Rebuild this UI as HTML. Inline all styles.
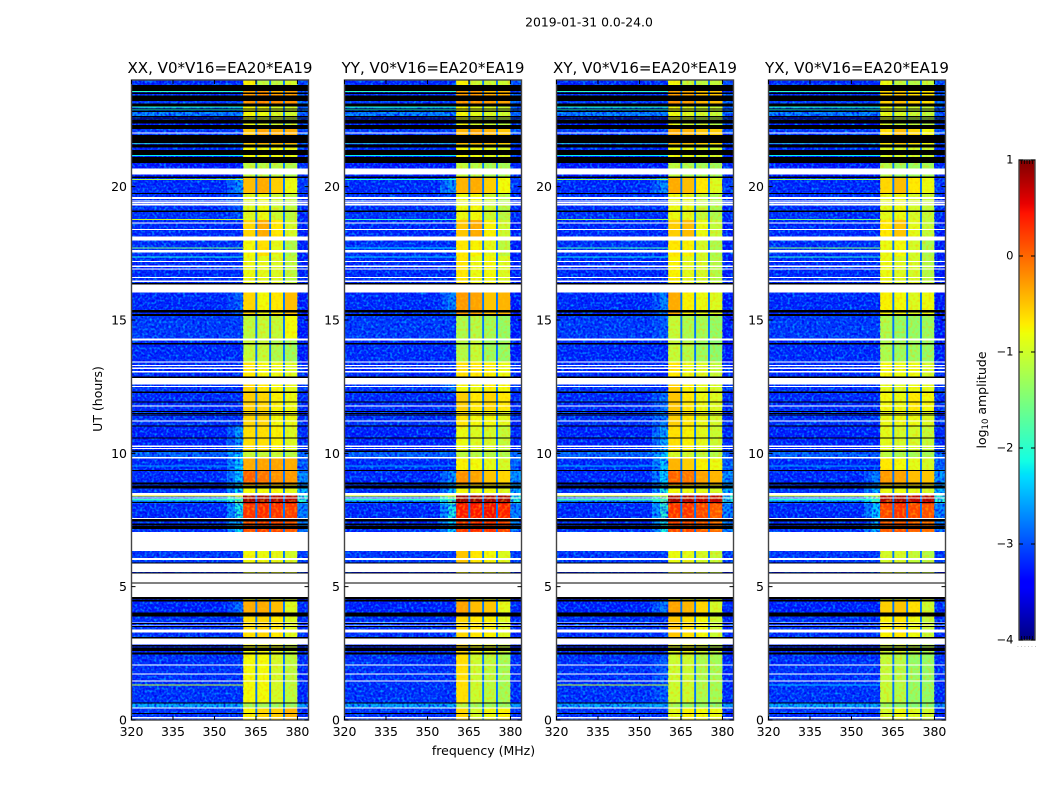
<!DOCTYPE html>
<html>
<head>
<meta charset="utf-8">
<title>2019-01-31 amplitude waterfall</title>
<style>
html,body{margin:0;padding:0;background:#fff;width:1050px;height:800px;overflow:hidden}
svg{display:block}
text{font-family:"DejaVu Sans","Liberation Sans",sans-serif;fill:#000}
</style>
</head>
<body>
<svg id="chart" xmlns="http://www.w3.org/2000/svg" width="1050" height="800" viewBox="0 0 1050 800">
<defs>
<filter id="speckle-light" x="0" y="0" width="100%" height="100%">
<feTurbulence type="fractalNoise" baseFrequency="0.42" numOctaves="1" seed="7"/>
<feColorMatrix type="matrix" values="0 0 0 0 0  0 0 0 0 0.5  0 0 0 0 1  2.4 0 0 0 -1.12"/>
</filter>
<filter id="speckle-dark" x="0" y="0" width="100%" height="100%">
<feTurbulence type="fractalNoise" baseFrequency="0.42" numOctaves="1" seed="23"/>
<feColorMatrix type="matrix" values="0 0 0 0 0  0 0 0 0 0  0 0 0 0 0.85  2.6 0 0 0 -1.05"/>
</filter>
<filter id="speckle-warm" x="0" y="0" width="100%" height="100%">
<feTurbulence type="fractalNoise" baseFrequency="0.38" numOctaves="1" seed="41"/>
<feColorMatrix type="matrix" values="0 0 0 0 1  0 0 0 0 0.55  0 0 0 0 0  1.6 0 0 0 -0.72"/>
</filter>
</defs>
<text x="589" y="26.5" font-size="12.4" text-anchor="middle">2019-01-31 0.0-24.0</text>
<text transform="translate(102,399) rotate(-90)" font-size="12.5" text-anchor="middle">UT (hours)</text>
<text x="483.5" y="755" font-size="12.5" text-anchor="middle">frequency (MHz)</text>
<text transform="translate(986,400) rotate(-90)" font-size="12.5" text-anchor="middle">log<tspan font-size="8.5" dy="2">10</tspan><tspan dy="-2"> amplitude</tspan></text>
<g id="panels"></g>
<g id="colorbar"></g>
<text x="1017" y="647" font-size="6" letter-spacing="1.6" style="fill:#888">......</text>
</svg>
<script>
// ---- axis data ----
const panelNames = ['XX', 'YY', 'XY', 'YX'];
const panelTitleSuffix = ', V0*V16=EA20*EA19';
const freqTicks = [320, 335, 350, 365, 380];
const hourTicks = [0, 5, 10, 15, 20];
const colorbarTicks = [1, 0, -1, -2, -3, -4];

// ---- time blocks (start hour of each block; last block ends at 24) ----
const blockStarts = [0,0.47,0.62,2.5,3.05,3.88,4.45,5.9,7.05,7.5,8.12,8.5,8.8,9.35,9.85,10.1,11.05,11.6,12.3,12.85,13.45,14.3,15.2,16.05,17.4,18.1,18.75,19.75,20.35,21.1,21.6,22.16,22.6,23.0,23.45,23.6];

// ---- frequency edges (MHz) ----
const bandEdges = [360.4, 365, 370, 375, 380];
const glowEdges = [354.5, 357.5, 360.4];
const notchFreqs = [365, 370, 375];

// ---- log10 amplitude levels per block, shared by all correlations ----
const backgroundLevel = [-3.15,-2.5,-3.15,-3.2,-3.15,-3.25,-3.25,-3.1,-3.15,-3.2,-2.8,-3.15,-3.2,-3.2,-2.85,-3.25,-3.15,-3.2,-3.15,-3.2,-3.2,-3.1,-3.2,-3.2,-3.15,-3.2,-3.15,-3.2,-3.3,-3.2,-3.1,-3.3,-2.7,-3.1,-3.2,-3.2];
const tailLevel = [-3.2,-2.6,-3.2,-3.2,-3.2,-3.2,-3.3,-3.1,-2.7,-2.7,-2.0,-2.4,-2.6,-2.9,-2.8,-3.2,-3.2,-3.2,-3.1,-3.2,-3.3,-3.3,-3.3,-3.25,-3.25,-3.25,-3.2,-3.1,-3.2,-3.2,-3.0,-3.0,-2.9,-2.8,-3,-3];
const notchLevel = -2.8;

// ---- per-correlation rows: [glow, 360-365, 365-370, 370-375, 375-380] ----
const xxRows = [
[null,-.75,-.6,-.55,-.4],[null,-1.3,-1.3,-1.35,-1.4],[null,-.8,-.8,-1.0,-1.15],[null,-.8,-.8,-.9,-1.1],
[null,-.65,-.6,-.7,-.95],[-2.8,-.35,-.35,-.45,-.95],[null,-.9,-.9,-.9,-1],[null,-.8,-.85,-.9,-1.0],
[-2.2,.15,.25,.2,.1],[-2.1,.3,.35,.3,.25],[-1.4,.85,.85,.8,.8],[-2.2,-.8,-.8,-.8,-.9],
[-2.3,.05,-.05,-.2,-.25],[-2.3,-.35,-.3,-.3,-.35],[-2.3,-1.1,-1.1,-1.1,-1.2],[-2.6,-.65,-.65,-.75,-.95],
[null,-.6,-.6,-.8,-.85],[null,-.55,-.6,-.75,-.85],[null,-.6,-.7,-.8,-.9],[null,-.7,-.8,-.85,-.95],
[null,-1.1,-1.1,-1.25,-1.35],[null,-1.15,-1.1,-1.1,-.8],[-2.9,-.6,-.8,-.7,-.45],[null,-.85,-.9,-.95,-1.15],
[null,-.8,-.65,-.9,-1.25],[null,-.6,-.35,-.7,-1.0],[-2.9,-.95,-.85,-1.05,-1.15],[-2.6,-.45,-.35,-.55,-.85],
[null,-1.15,-1.2,-1.2,-1.25],[null,-.8,-.85,-.85,-.9],[null,-.5,-.3,-.35,-.35],[null,-.9,-1,-1.05,-1.1],
[null,-.8,-.85,-1,-1.05],[null,-.2,-.15,-.15,-.2],[null,-.3,-.2,-.4,-.3],[null,-.75,-1.15,-1.15,-1]
];
const yyRows = [
[null,-.6,-1.0,-.85,-.75],[null,-1.2,-1.35,-1.35,-1.4],[null,-.65,-1.05,-1.15,-1.3],[null,-.6,-.8,-.9,-1.1],
[null,-.6,-.7,-.75,-.95],[null,-.3,-.45,-.5,-.9],[null,-.8,-.9,-.9,-1],[null,-.5,-.7,-.8,-.95],
[-2.3,.3,.35,.3,.2],[-2.1,.45,.45,.5,.4],[-1.4,.9,.9,.85,.85],[-2.4,-.8,-.85,-.85,-.95],
[-2.6,-.2,-.3,-.5,-.6],[null,-.75,-.8,-.9,-1.0],[null,-1.15,-1.2,-1.2,-1.25],[null,-.85,-.95,-1.0,-1.1],
[null,-.7,-.8,-.8,-.9],[null,-.55,-.7,-.6,-.7],[-2.7,-.8,-.85,-.75,-.8],[null,-.65,-.7,-.75,-.85],
[null,-1.2,-1.1,-1.35,-1.4],[null,-1.25,-1.2,-1.3,-1.4],[-2.7,-.25,-.3,-.5,-.4],[null,-.7,-.85,-.8,-.95],
[null,-.7,-.75,-.9,-1.15],[null,-.5,-.35,-.75,-1.05],[null,-.85,-.8,-1.05,-1.2],[-2.6,-.4,-.35,-.55,-.8],
[null,-1.1,-1.2,-1.3,-1.3],[null,-.8,-.85,-.95,-1],[null,-.4,-.3,-.4,-.5],[null,-.85,-1,-1.1,-1.15],
[null,-.8,-.9,-1,-1.05],[null,-.2,-.2,-.25,-.3],[null,-.3,-.25,-.45,-.4],[null,-.75,-1.05,-1.1,-1.05]
];
const xyRows = [
[null,-.9,-.75,-.8,-.85],[null,-1.3,-1.4,-1.4,-1.5],[-2.9,-1.05,-1.05,-1.25,-1.3],[null,-.9,-.85,-1.0,-1.2],
[null,-.5,-.65,-.8,-1.05],[-2.7,-.3,-.4,-.6,-1.0],[null,-.9,-.9,-1,-1.1],[null,-.85,-.9,-1.0,-1.1],
[-2.1,.2,.2,.1,0],[-2.0,.3,.3,.2,.1],[-1.5,.85,.8,.75,.75],[-2.1,-.8,-.85,-.9,-1],
[-2.3,.05,-.05,-.3,-.4],[-2.3,-.4,-.55,-.75,-.85],[-2.3,-1,-1.05,-1.15,-1.2],[-2.5,-.65,-.75,-.9,-1.05],
[-2.7,-.55,-.7,-.85,-1],[-2.8,-.5,-.7,-.85,-.95],[null,-.55,-.75,-.9,-1],[null,-.7,-.85,-.95,-1.1],
[null,-1.1,-1.2,-1.35,-1.45],[-2.9,-1.1,-1.25,-1.3,-1.4],[-2.7,-.35,-.75,-.85,-.95],[null,-.75,-.9,-1,-1.2],
[null,-.7,-.75,-1,-1.25],[null,-.55,-.45,-.85,-1.1],[null,-.85,-.9,-1.1,-1.25],[-2.6,-.35,-.45,-.7,-.95],
[null,-1.15,-1.25,-1.3,-1.35],[null,-.85,-.9,-1,-1.05],[null,-.35,-.4,-.5,-.55],[null,-.9,-1.05,-1.15,-1.2],
[null,-.85,-.95,-1.05,-1.1],[null,-.2,-.25,-.4,-.45],[null,-.3,-.35,-.5,-.5],[null,-.8,-1.1,-1.15,-1.1]
];
const yxRows = [
[null,-1.0,-.85,-.95,-1.05],[null,-1.35,-1.45,-1.5,-1.5],[null,-1.1,-1.2,-1.4,-1.4],[null,-1.05,-1.0,-1.15,-1.25],
[null,-.75,-.7,-.85,-1.1],[null,-.55,-.5,-.65,-1.05],[null,-1,-1,-1.05,-1.1],[null,-1,-1,-1.1,-1.2],
[-2.4,.1,.15,.05,0],[-2.3,.2,.3,.2,.15],[-1.6,.8,.85,.75,.8],[-2.4,-.85,-.85,-.9,-1],
[-2.7,-.25,-.3,-.45,-.5],[null,-.7,-.8,-.9,-1],[null,-1.15,-1.25,-1.3,-1.3],[null,-.9,-1,-1,-1.1],
[null,-.85,-.85,-.85,-.95],[null,-.8,-.85,-.7,-.8],[null,-.9,-.95,-.85,-.9],[null,-.8,-.85,-.85,-1],
[null,-1.25,-1.35,-1.35,-1.4],[null,-1.25,-1.4,-1.4,-1.35],[null,-.75,-.8,-.95,-.85],[null,-.85,-.95,-1,-1.2],
[null,-.85,-.8,-1,-1.25],[null,-.7,-.5,-.9,-1.1],[null,-.9,-.85,-1.0,-1.1],[null,-.6,-.45,-.7,-.85],
[null,-1.2,-1.35,-1.35,-1.3],[null,-.95,-1,-1.05,-1.1],[null,-.65,-.45,-.6,-.8],[null,-1,-1.15,-1.2,-1.25],
[null,-.9,-1,-1.1,-1.15],[null,-.55,-.45,-.55,-.65],[null,-.6,-.55,-.7,-.7],[null,-.85,-1.15,-1.2,-1.1]
];
const rowsByPanel = [xxRows, yyRows, xyRows, yxRows];

// ---- narrow-band interference rows: [hour, XX, YY, XY, YX] log10 amplitude ----
const rfiRows = [
[1.3,-1.0,null,-1.0,-2.4],[8.38,-.7,-.8,-.8,-.8],[8.24,-2.0,-2.0,-1.9,-2.1],[9.5,-2.6,-2.6,-2.5,-2.6],
[17.35,-2.1,-2.3,-2.2,-2.0],[17.68,-1.5,-2.3,-1.8,-1.4],[18.75,-1.0,-1.9,-1.3,-1.5],
[20.25,-1.2,-2.0,-1.3,-1.3],[21.62,-1.9,-1.9,-1.9,-1.9],[21.16,-2.2,-2.2,-2.2,-2.2],[22.43,-2.4,-2.4,-2.4,-2.4],
[22.88,-2.1,-2.1,-2.1,-2.1],[22.97,-2,-2,-2,-2],[23.55,-2,-2,-2,-2]
];
const rfiThickness = 0.04;

// ---- flagged (blank) hour ranges ----
const whiteRows = [
[.05,.11],[.43,.47],[1.44,1.49],[1.71,1.75],[2.05,2.08],[2.83,3.05],[3.29,3.4],[3.52,3.55],[3.6,3.66],
[4.61,5.11],[5.16,5.49],[5.55,5.9],[6.0,6.08],[6.33,7.05],[7.56,7.58],[8.3,8.34],[8.42,8.51],[9.81,9.86],
[10.17,10.2],[10.24,10.3],[11.2,11.24],[11.76,11.8],[12.49,12.53],[12.58,12.83],[13.04,13.08],[13.17,13.21],
[13.27,13.32],[13.4,13.45],[14.24,14.3],[16.04,16.33],[16.43,16.49],[16.57,16.62],[16.89,16.93],[16.99,17.05],
[17.17,17.22],[17.53,17.62],[17.99,18.14],[18.37,18.41],[18.62,18.66],[19.3,19.37],[19.4,19.43],[19.47,19.49],
[19.53,19.62],[20.46,20.69],[21.99,22.03]
];
// ---- hour ranges with zero amplitude (below colour range) ----
const blackRows = [
[.23,.26],[.61,.66],[2.46,2.53],[2.58,2.72],[2.76,2.81],[3.06,3.11],[3.48,3.52],[3.62,3.64],[3.88,4.03],
[4.45,4.52],[4.53,4.61],[5.11,5.16],[5.49,5.54],[5.88,5.91],[7.17,7.29],[7.31,7.36],[7.45,7.54],[8.14,8.18],
[8.68,8.78],[8.8,8.84],[8.86,8.9],[9.34,9.38],[10.06,10.1],[10.56,10.6],[11.01,11.05],[11.43,11.46],
[11.48,11.51],[11.56,11.59],[11.9,11.94],[12.27,12.31],[12.83,12.89],[14.1,14.13],[15.15,15.23],[15.28,15.37],
[16.33,16.38],[19.08,19.1],[19.74,19.77],[20.32,20.39],[20.89,21.12],[21.19,21.37],[21.46,21.58],[21.64,21.93],
[22.16,22.31],[22.37,22.5],[22.52,22.56],[22.6,22.65],[22.81,22.85],[22.9,22.94],[23,23.12],[23.22,23.41],
[23.47,23.53],[23.58,23.81]
];

// ---- colour map knots: position, r, g, b ----
const jetRed = [[0,0],[.35,0],[.66,1],[.89,1],[1,.5]];
const jetGreen = [[0,0],[.125,0],[.375,1],[.64,1],[.91,0],[1,0]];
const jetBlue = [[0,.5],[.11,1],[.34,1],[.65,0],[1,0]];

const SVGNS = 'http://www.w3.org/2000/svg';
const panelLefts = [131.5, 344.5, 556.5, 768.5];
const panelWidth = 177, plotTop = 80, plotBottom = 720;
const freqMin = 320, freqMax = 384, hourMax = 24;
const levelMin = -4, levelMax = 1;

function knot(table, x) {
  for (let i = 1; i < table.length; i++) {
    if (x <= table[i][0]) {
      const a = table[i - 1], b = table[i];
      return a[1] + (b[1] - a[1]) * (x - a[0]) / (b[0] - a[0]);
    }
  }
  return table[table.length - 1][1];
}
function colour(level) {
  const x = Math.max(0, Math.min(1, (level - levelMin) / (levelMax - levelMin)));
  const c = [jetRed, jetGreen, jetBlue].map(t => Math.round(255 * knot(t, x)));
  return 'rgb(' + c.join(',') + ')';
}
function xScale(panel, f) { return panelLefts[panel] + (f - freqMin) / (freqMax - freqMin) * panelWidth; }
function yScale(h) { return plotBottom - h / hourMax * (plotBottom - plotTop); }
function barY(level) { return 640 - (level - levelMin) / (levelMax - levelMin) * 480; }
function make(tag, attrs, parent) {
  const el = document.createElementNS(SVGNS, tag);
  for (const k in attrs) el.setAttribute(k, attrs[k]);
  parent.appendChild(el);
  return el;
}
function cellAttrs(panel, f0, f1, h0, h1, fill) {
  const x0 = xScale(panel, f0), x1 = xScale(panel, f1), y0 = yScale(h1), y1 = yScale(h0);
  return {x: x0, y: y0, width: x1 - x0, height: Math.max(y1 - y0, 1.1), fill: fill, 'shape-rendering': 'crispEdges'};
}

const root = document.getElementById('panels');
panelNames.forEach((name, p) => {
  const g = make('g', {}, root);
  
  
  const rows = rowsByPanel[p];

  // heatmap cells per block
  blockStarts.forEach((h0, b) => {
    const h1 = b + 1 < blockStarts.length ? blockStarts[b + 1] : hourMax;
    const row = rows[b], bg = backgroundLevel[b], glow = row[0] === null ? bg : row[0];
    const bgCell = make('rect', cellAttrs(p, freqMin, glowEdges[0], h0, h1, colour(bg)), g);
    
    
    const glowOuter = make('rect', cellAttrs(p, glowEdges[0], glowEdges[1], h0, h1, colour((bg + glow) / 2)), g);
    
    
    const glowInner = make('rect', cellAttrs(p, glowEdges[1], glowEdges[2], h0, h1, colour(glow)), g);
    
    
    for (let s = 0; s < 4; s++) {
      const band = make('rect', cellAttrs(p, bandEdges[s], bandEdges[s + 1], h0, h1, colour(row[s + 1])), g);
      
      
    }
    const tail = make('rect', cellAttrs(p, bandEdges[4], freqMax, h0, h1, colour(tailLevel[b])), g);
    
    
  });

  // faint warm texture inside the bright band
  const warm = make('rect', {x: xScale(p, bandEdges[0]), y: plotTop, width: xScale(p, bandEdges[4]) - xScale(p, bandEdges[0]), height: plotBottom - plotTop, filter: 'url(#speckle-warm)'}, g);
  
  

  // channel notches between sub-bands
  notchFreqs.forEach(f => {
    const x = xScale(p, f);
    const notch = make('rect', {x: x - 0.6, y: plotTop, width: 1.9, height: plotBottom - plotTop, fill: colour(notchLevel)}, g);
    
    
  });

  // speckle texture over the out-of-band background only
  ['speckle-dark', 'speckle-light'].forEach(fid => {
    const sp1 = make('rect', {x: xScale(p, freqMin), y: plotTop, width: xScale(p, bandEdges[0]) - xScale(p, freqMin), height: plotBottom - plotTop, filter: 'url(#' + fid + ')'}, g);
    
    
    const sp2 = make('rect', {x: xScale(p, bandEdges[4]), y: plotTop, width: xScale(p, freqMax) - xScale(p, bandEdges[4]), height: plotBottom - plotTop, filter: 'url(#' + fid + ')'}, g);
    
    
  });

  // narrow-band interference
  rfiRows.forEach(r => {
    if (r[p + 1] === null) return;
    const line = make('rect', cellAttrs(p, freqMin, bandEdges[0], r[0], r[0] + rfiThickness, colour(r[p + 1])), g);
    
    
  });

  // flagged rows
  whiteRows.forEach(r => {
    const m = make('rect', cellAttrs(p, freqMin, freqMax, r[0], r[1], '#fff'), g);
    
    
  });
  blackRows.forEach(r => {
    const m = make('rect', cellAttrs(p, freqMin, freqMax, r[0], r[1], '#000'), g);
    
    
  });

  // frame
  const frame = make('rect', {x: panelLefts[p], y: plotTop, width: panelWidth, height: plotBottom - plotTop, fill: 'none', stroke: '#444', 'stroke-width': 1.4}, g);
  
  

  // title
  const title = make('text', {x: panelLefts[p] + panelWidth / 2, y: 73, 'font-size': 15.05, 'text-anchor': 'middle'}, g);
  title.textContent = name + panelTitleSuffix;
  
  

  // x ticks
  freqTicks.forEach(f => {
    const x = xScale(p, f);
    const t1 = make('path', {d: 'M' + x + ' 720v-4M' + x + ' 80v4', stroke: '#000', 'stroke-width': 1, fill: 'none'}, g);
    
    
    const lab = make('text', {x: x, y: 736, 'font-size': 12.5, 'text-anchor': 'middle'}, g);
    lab.textContent = f;
    
    
  });
  // y ticks
  hourTicks.forEach(h => {
    const y = yScale(h), l = panelLefts[p], rgt = l + panelWidth;
    const t2 = make('path', {d: 'M' + l + ' ' + y + 'h4M' + rgt + ' ' + y + 'h-4', stroke: '#000', 'stroke-width': 1, fill: 'none'}, g);
    
    
    const lab = make('text', {x: l - 4.5, y: y + 4.5, 'font-size': 12.5, 'text-anchor': 'end'}, g);
    lab.textContent = h;
    
    
  });
});

// ---- colour bar ----
const cb = document.getElementById('colorbar');
const barX = 1019, barW = 16;
for (let i = 0; i < 240; i++) {
  const lv0 = levelMin + (levelMax - levelMin) * i / 240;
  const lv1 = levelMin + (levelMax - levelMin) * (i + 1) / 240;
  const step = make('rect', {x: barX, y: barY(lv1), width: barW, height: barY(lv0) - barY(lv1) + 0.3, fill: colour((lv0 + lv1) / 2), 'shape-rendering': 'crispEdges'}, cb);
  
  
}
const cbFrame = make('rect', {x: barX, y: 160, width: barW, height: 480, fill: 'none', stroke: '#444', 'stroke-width': 1.4}, cb);


colorbarTicks.forEach(v => {
  const y = barY(v);
  const dash = make('path', {d: 'M' + barX + ' ' + y + 'h4M' + (barX + barW) + ' ' + y + 'h-4', stroke: '#000', 'stroke-width': 1, fill: 'none'}, cb);
  
  
  const lab = make('text', {x: 1013.5, y: y + 3.5, 'font-size': 11.5, 'text-anchor': 'end'}, cb);
  lab.textContent = v < 0 ? '\u2212' + Math.abs(v) : String(v);
  
  
});
[1, 2, 3, 4, 5].forEach(k => {
  const xm = barX + k * barW / 6;
  const m = make('path', {d: 'M' + xm + ' 160v4M' + xm + ' 640v-4', stroke: '#000', 'stroke-width': 0.8, fill: 'none'}, cb);
  
  
});
</script>
</body>
</html>
